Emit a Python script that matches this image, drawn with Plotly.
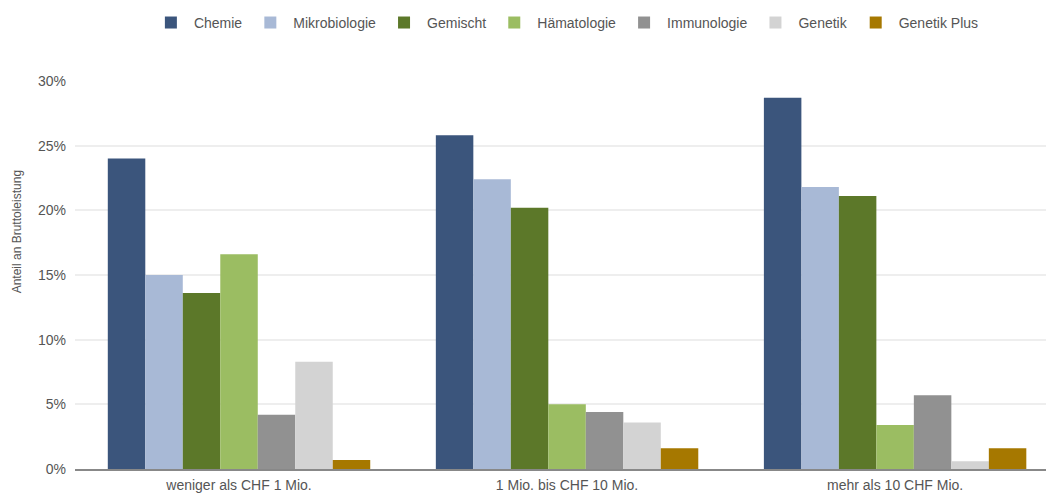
import plotly.graph_objects as go

# Umsatzklassen (x-Achse)
categories = ["weniger als CHF 1 Mio.", "1 Mio. bis CHF 10 Mio.", "mehr als 10 CHF Mio."]

# Anteil an Bruttoleistung je Fachgebiet, in Prozent
chemie = [24.0, 25.8, 28.7]
mikrobiologie = [15.0, 22.4, 21.8]
gemischt = [13.6, 20.2, 21.1]
haematologie = [16.6, 5.0, 3.4]
immunologie = [4.2, 4.4, 5.7]
genetik = [8.3, 3.6, 0.6]
genetik_plus = [0.7, 1.6, 1.6]

y_ticks = [0, 5, 10, 15, 20, 25, 30]
y_tick_labels = ["0%", "5%", "10%", "15%", "20%", "25%", "30%"]

series = [
    ("Chemie", chemie, "#3b557c"),
    ("Mikrobiologie", mikrobiologie, "#a8b9d6"),
    ("Gemischt", gemischt, "#5c7829"),
    ("Hämatologie", haematologie, "#9bbd62"),
    ("Immunologie", immunologie, "#919191"),
    ("Genetik", genetik, "#d3d3d3"),
    ("Genetik Plus", genetik_plus, "#a67800"),
]

fig = go.Figure()
for name, values, color in series:
    fig.add_trace(go.Bar(
        name=name,
        x=list(range(len(categories))),
        y=values,
        marker=dict(color=color, line=dict(width=0)),
    ))

regular = "Liberation Sans, Arial, sans-serif"
narrow = "Liberation Sans Narrow, Arial Narrow, sans-serif"

fig.update_layout(
    width=1046,
    height=494,
    margin=dict(l=75, r=0, t=81, b=25),
    paper_bgcolor="white",
    plot_bgcolor="white",
    barmode="group",
    bargap=0.2,
    bargroupgap=0,
    font=dict(family=regular, color="#555555"),
    legend=dict(
        orientation="h",
        xref="container",
        x=0.541,
        xanchor="center",
        yref="container",
        y=0.986,
        yanchor="top",
        font=dict(family=regular, size=14, color="#555555"),
        itemwidth=36,
        traceorder="normal",
    ),
    xaxis=dict(
        tickmode="array",
        tickvals=list(range(len(categories))),
        ticktext=categories,
        range=[-0.5, 2.46],
        showgrid=False,
        showline=True,
        linecolor="#888888",
        linewidth=2,
        ticks="",
        ticklabelstandoff=2,
        automargin=False,
        tickfont=dict(family=regular, size=14, color="#555555"),
        fixedrange=True,
    ),
    yaxis=dict(
        range=[0, 30],
        tickmode="array",
        tickvals=y_ticks,
        ticktext=y_tick_labels,
        showgrid=True,
        gridcolor="#eeeeee",
        gridwidth=1.5,
        zeroline=False,
        ticks="",
        ticklabelstandoff=8,
        automargin=False,
        tickfont=dict(family=regular, size=14, color="#555555"),
        fixedrange=True,
    ),
    annotations=[
        dict(
            text="Anteil an Bruttoleistung",
            xref="paper", yref="paper",
            x=-0.0597, y=0.61,
            xanchor="center", yanchor="middle",
            textangle=-90,
            showarrow=False,
            font=dict(family=narrow, size=12, color="#555555"),
        )
    ],
)

fig.write_html("out.html")
